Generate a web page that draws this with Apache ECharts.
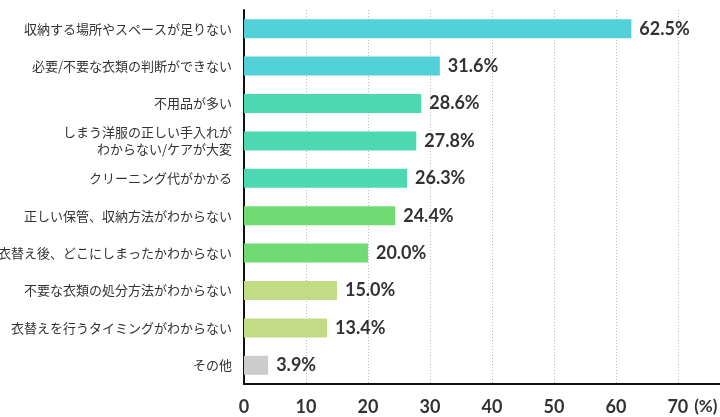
<!DOCTYPE html>
<html>
<head>
<meta charset="utf-8">
<script src="https://cdn.jsdelivr.net/npm/echarts@6/dist/echarts.min.js"></script>
<style>
  html, body { margin: 0; padding: 0; background: #fff; }
  #chart { width: 720px; height: 417px; }
</style>
</head>
<body>
<div id="chart"></div>
<script>
// 項目（上から順）
var categories = [
    '収納する場所やスペースが足りない',
    '必要/不要な衣類の判断ができない',
    '不用品が多い',
    'しまう洋服の正しい手入れが\nわからない/ケアが大変',
    'クリーニング代がかかる',
    '正しい保管、収納方法がわからない',
    '衣替え後、どこにしまったかわからない',
    '不要な衣類の処分方法がわからない',
    '衣替えを行うタイミングがわからない',
    'その他'
];
var values = [62.5, 31.6, 28.6, 27.8, 26.3, 24.4, 20.0, 15.0, 13.4, 3.9];
var barColors = ['#52d1d8', '#52d1d8', '#4cd8b1', '#4cd8b1', '#4cd8b1',
                 '#6fdb72', '#6fdb72', '#c1dc85', '#c1dc85', '#cccccc'];
var xTicks = [0, 10, 20, 30, 40, 50, 60, 70];

var textColor = '#333';
var numFont = 'Lato, "Noto Sans", sans-serif';

var chart = echarts.init(document.getElementById('chart'));

var option = {
    animation: false,
    grid: {
        left: 244,
        right: 0,
        top: 10,
        bottom: 33,
        outerBoundsMode: 'none'
    },
    xAxis: {
        type: 'value',
        min: 0,
        max: 76.8,
        interval: 10,
        name: '(%)',
        nameLocation: 'end',
        nameGap: -32,
        nameTextStyle: {
            color: textColor,
            fontFamily: numFont,
            fontWeight: 'bold',
            fontSize: 17,
            align: 'left',
            verticalAlign: 'top',
            padding: [14, 0, 0, 0]
        },
        axisLine: { show: true, lineStyle: { color: '#111', width: 2 } },
        axisTick: { show: false },
        axisLabel: {
            margin: 14,
            color: textColor,
            fontFamily: numFont,
            fontWeight: 'bold',
            fontSize: 18,
            formatter: function (v) {
                return xTicks.indexOf(v) >= 0 ? String(v) : '';
            }
        },
        splitLine: {
            show: true,
            lineStyle: { color: '#bbb', type: [1, 2], width: 1 }
        }
    },
    yAxis: {
        type: 'category',
        inverse: true,
        data: categories,
        axisLine: { show: true, lineStyle: { color: '#111', width: 2 } },
        axisTick: { show: false },
        axisLabel: {
            margin: 12,
            color: textColor,
            fontFamily: '"Noto Sans CJK JP", sans-serif',
            fontSize: 13,
            lineHeight: 17
        }
    },
    series: [{
        type: 'bar',
        barWidth: 19,
        data: values.map(function (v, i) {
            return { value: v, itemStyle: { color: barColors[i] } };
        }),
        label: {
            show: true,
            position: 'right',
            distance: 8,
            color: textColor,
            fontFamily: numFont,
            fontWeight: 'bold',
            fontSize: 18,
            formatter: function (p) {
                return p.value.toFixed(1) + '%';
            }
        }
    }]
};

chart.setOption(option);
</script>
</body>
</html>
